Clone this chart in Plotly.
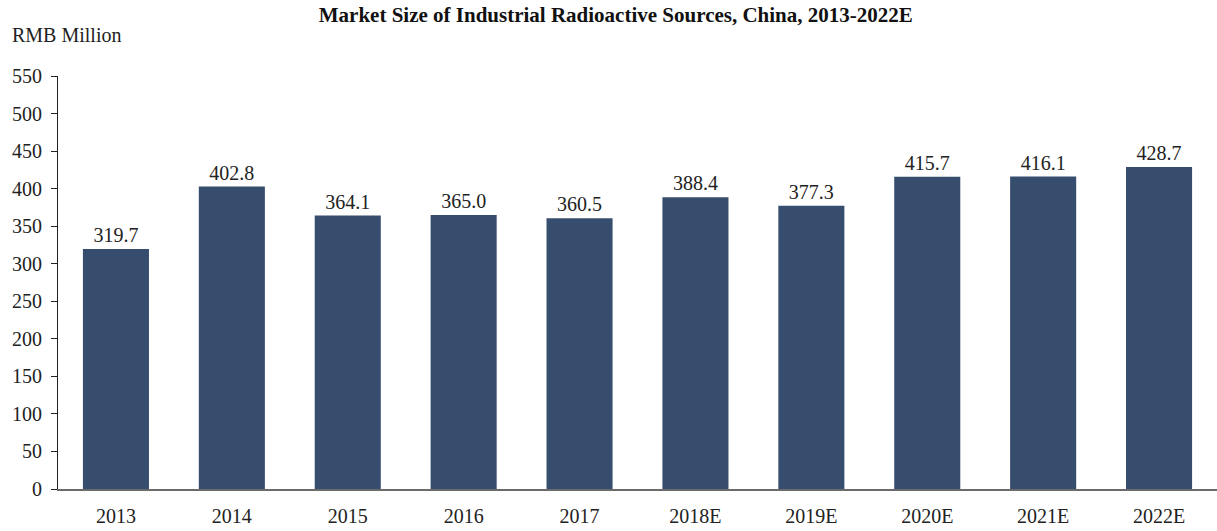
import plotly.graph_objects as go

years = ["2013", "2014", "2015", "2016", "2017", "2018E", "2019E", "2020E", "2021E", "2022E"]
market_size = [319.7, 402.8, 364.1, 365.0, 360.5, 388.4, 377.3, 415.7, 416.1, 428.7]
y_ticks = [0, 50, 100, 150, 200, 250, 300, 350, 400, 450, 500, 550]

font_family = "Liberation Serif, Times New Roman, serif"
text_color = "#222222"

fig = go.Figure(
    go.Bar(
        x=years,
        y=market_size,
        marker=dict(color="#364D6E", line=dict(width=0)),
        text=[f"{v:.1f}" for v in market_size],
        textposition="outside",
        textfont=dict(family=font_family, size=20, color=text_color),
        cliponaxis=False,
    )
)

fig.update_layout(
    width=1217,
    height=531,
    margin=dict(l=58, r=0, t=76, b=42),
    paper_bgcolor="white",
    plot_bgcolor="white",
    bargap=0.43,
    showlegend=False,
    font=dict(family=font_family, size=20, color=text_color),
    title=dict(
        text="<b>Market Size of Industrial Radioactive Sources, China, 2013-2022E</b>",
        x=0.506,
        xanchor="center",
        y=0.972,
        yanchor="middle",
        font=dict(family=font_family, size=21, color="#111111"),
    ),
    annotations=[
        dict(
            text="RMB Million",
            xref="paper",
            yref="paper",
            x=-0.0414,
            y=1.099,
            xanchor="left",
            yanchor="middle",
            showarrow=False,
            font=dict(family=font_family, size=20, color=text_color),
        )
    ],
)

fig.update_xaxes(
    showgrid=False,
    showline=True,
    linecolor="#6b6b6b",
    linewidth=2,
    ticks="",
    ticklabelstandoff=8,
    tickfont=dict(family=font_family, size=20, color=text_color),
)

fig.update_yaxes(
    range=[0, 550],
    tickvals=y_ticks,
    showgrid=False,
    zeroline=False,
    showline=True,
    linecolor="#222222",
    linewidth=1,
    ticks="outside",
    ticklen=6,
    tickcolor="#222222",
    ticklabelstandoff=5,
    tickfont=dict(family=font_family, size=20, color=text_color),
)

fig.write_html("out.html")
